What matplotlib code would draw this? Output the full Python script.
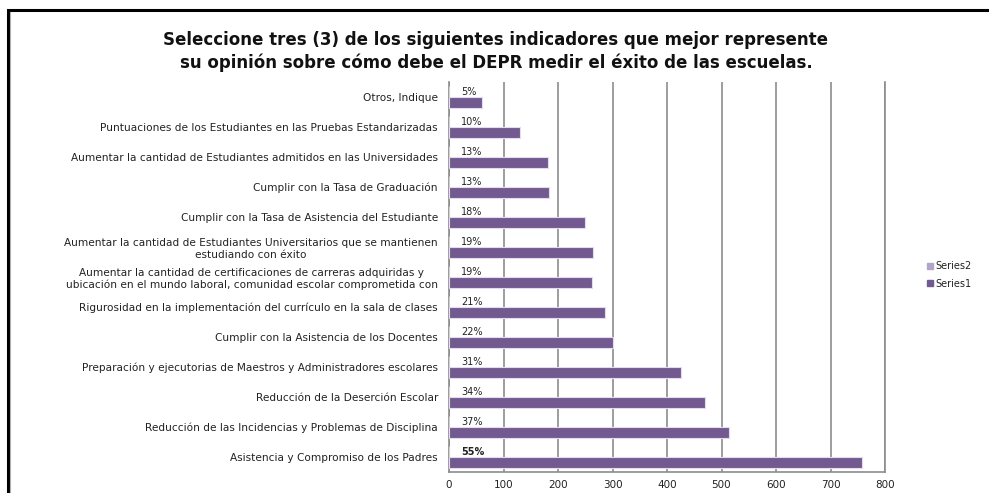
import numpy as np
import matplotlib
matplotlib.use('Agg')
import matplotlib.pyplot as plt
from matplotlib.patches import Rectangle
from matplotlib.lines import Line2D

# Indicadores (de abajo hacia arriba en el eje vertical)
indicadores = [
    "Asistencia y Compromiso de los Padres",
    "Reducción de las Incidencias y Problemas de Disciplina",
    "Reducción de la Deserción Escolar",
    "Preparación y ejecutorias de Maestros y Administradores escolares",
    "Cumplir con la Asistencia de los Docentes",
    "Rigurosidad en la implementación del currículo en la sala de clases",
    "Aumentar la cantidad de certificaciones de carreras adquiridas y\n"
    "ubicación en el mundo laboral, comunidad escolar comprometida con",
    "Aumentar la cantidad de Estudiantes Universitarios que se mantienen\n"
    "estudiando con éxito",
    "Cumplir con la Tasa de Asistencia del Estudiante",
    "Cumplir con la Tasa de Graduación",
    "Aumentar la cantidad de Estudiantes admitidos en las Universidades",
    "Puntuaciones de los Estudiantes en las Pruebas Estandarizadas",
    "Otros, Indique",
]
# Series1: cantidad de respuestas
series1 = [757, 514, 469, 425, 301, 287, 263, 265, 250, 184, 182, 131, 60]
# Series2: proporción (se muestra como etiqueta de porcentaje)
series2 = [0.55, 0.37, 0.34, 0.31, 0.22, 0.21, 0.19, 0.19, 0.18, 0.13, 0.13, 0.10, 0.05]
x_ticks = [0, 100, 200, 300, 400, 500, 600, 700, 800]

titulo = ("Seleccione tres (3) de los siguientes indicadores que mejor represente\n"
          "su opinión sobre cómo debe el DEPR medir el éxito de las escuelas.")

COLOR_S1 = '#725a90'
COLOR_S2 = '#b3a5c8'
GRIS = '#8c8c8c'
TEXTO = '#222222'

plt.rcParams['font.family'] = ['DejaVu Sans']

fig = plt.figure(figsize=(9.89, 4.93), dpi=100)
ax = fig.add_axes([449 / 989, 1 - 472 / 493, 436 / 989, 390 / 493])

y = np.arange(len(indicadores))
alto = 0.37
ax.barh(y - alto / 2, series1, height=alto, color=COLOR_S1,
        edgecolor='#e4dcee', linewidth=0.8, zorder=3, label='Series1')
ax.barh(y + alto / 2, series2, height=alto, color=COLOR_S2,
        edgecolor='#cfcfcf', linewidth=0.8, zorder=3, label='Series2')

# Etiquetas de porcentaje al final de la Series2
for yi, p in zip(y, series2):
    ax.annotate(f"{round(p * 100)}%", xy=(p, yi + alto / 2 - 0.02),
                xytext=(8.5, 0), textcoords='offset points',
                ha='left', va='center', fontsize=7, color=TEXTO,
                fontweight='bold' if p >= 0.5 else 'normal', zorder=4)

ax.set_xlim(0, 800)
ax.set_ylim(-0.5, len(indicadores) - 0.5)
ax.set_xticks(x_ticks)
ax.set_xticklabels([str(v) for v in x_ticks], fontsize=7.5, color=TEXTO)
ax.set_yticks(y)
ax.set_yticklabels(indicadores, fontsize=7.6, color=TEXTO,
                   multialignment='center', linespacing=1.25)
ax.tick_params(axis='both', length=0)
ax.tick_params(axis='x', pad=6)
ax.tick_params(axis='y', pad=8)

ax.grid(axis='x', color=GRIS, linewidth=1.2, zorder=0)
ax.spines['top'].set_visible(False)
for lado in ['left', 'bottom', 'right']:
    ax.spines[lado].set_color(GRIS)
    ax.spines[lado].set_linewidth(1.2)

# Leyenda a la derecha
manejadores = [
    Line2D([], [], marker='s', linestyle='none', markersize=4.5,
           markerfacecolor=COLOR_S2, markeredgecolor=COLOR_S2),
    Line2D([], [], marker='s', linestyle='none', markersize=4.5,
           markerfacecolor=COLOR_S1, markeredgecolor=COLOR_S1),
]
fig.legend(manejadores, ['Series2', 'Series1'], loc='center left',
           bbox_to_anchor=(921 / 989, 1 - 275 / 493), frameon=False,
           fontsize=7, handletextpad=0.1, labelspacing=0.75,
           handlelength=1.0, borderaxespad=0, labelcolor=TEXTO)

fig.text(496 / 989, 1 - 51.5 / 493, titulo, ha='center', va='center',
         fontsize=12, fontweight='bold', color='#111111', linespacing=1.3)

# Marco del gráfico
fig.add_artist(Rectangle((7.5 / 989, -0.1), 1.2, 1 - 10.5 / 493 + 0.1,
                         transform=fig.transFigure, fill=False,
                         edgecolor='black', linewidth=2.2))
fig.add_artist(Line2D([10 / 989, 10 / 989], [0, 1 - 12 / 493],
                      transform=fig.transFigure, color='#b0b0b0',
                      linewidth=0.8))

fig.savefig('out.png', dpi=100)
plt.close(fig)
